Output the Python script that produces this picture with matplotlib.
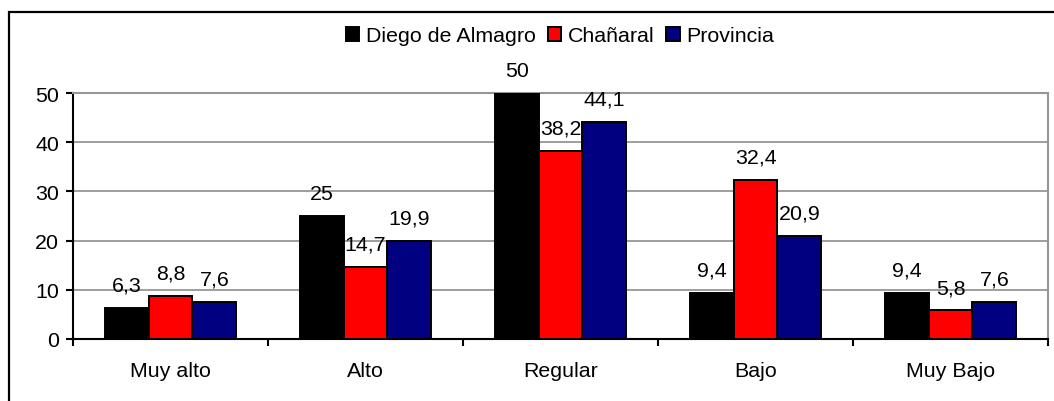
import matplotlib
matplotlib.use('Agg')
import matplotlib.pyplot as plt
import numpy as np
from matplotlib.patches import Rectangle

categories = ['Muy alto', 'Alto', 'Regular', 'Bajo', 'Muy Bajo']
series_names = ['Diego de Almagro', 'Chañaral', 'Provincia']
diego = [6.3, 25, 50, 9.4, 9.4]
chanaral = [8.8, 14.7, 38.2, 32.4, 5.8]
provincia = [7.6, 19.9, 44.1, 20.9, 7.6]
colors = ['#000000', '#FF0000', '#000080']
yticks = [0, 10, 20, 30, 40, 50]

plt.rcParams['font.family'] = ['Liberation Sans', 'DejaVu Sans']
FS = 15.4

fig = plt.figure(figsize=(10.54, 4.02), dpi=100)
ax = fig.add_axes([73 / 1054, 62 / 402, 975 / 1054, 246 / 402])


def fmt(v):
    s = f'{v:.1f}'
    if s.endswith('.0'):
        s = s[:-2]
    return s.replace('.', ',')


x = np.arange(len(categories)) + 0.5
width = 0.225
all_series = [diego, chanaral, provincia]
for i, (vals, name, col) in enumerate(zip(all_series, series_names, colors)):
    pos = x + (i - 1) * width
    ax.bar(pos, vals, width=width, color=col, edgecolor='black',
           linewidth=1.4, label=name, zorder=3)
    for px, v in zip(pos, vals):
        ax.annotate(fmt(v), (px, v), xytext=(0, 9.5), textcoords='offset points',
                    ha='center', va='bottom', fontsize=FS, zorder=4,
                    annotation_clip=False)

ax.set_xlim(0, len(categories))
ax.set_ylim(0, 50)
ax.set_yticks(yticks)
ax.set_yticklabels([str(t) for t in yticks])
ax.yaxis.grid(True, color='#969696', linewidth=1.3, zorder=0)

ax.set_xticks(np.arange(len(categories) + 1))
ax.set_xticklabels([])
ax.set_xticks(x, minor=True)
ax.set_xticklabels(categories, minor=True)
ax.tick_params(axis='x', which='minor', length=0, pad=16, labelsize=FS)
ax.tick_params(axis='x', which='major', length=5, width=1.5, direction='out')
ax.tick_params(axis='y', length=5, width=1.5, direction='out', pad=5, labelsize=FS)

for s in ['left', 'bottom']:
    ax.spines[s].set_color('black')
    ax.spines[s].set_linewidth(1.5)
for s in ['top', 'right']:
    ax.spines[s].set_color('#969696')
    ax.spines[s].set_linewidth(1.5)

leg = fig.legend(loc='center', bbox_to_anchor=((73 + 487) / 1054, 1 - 37 / 402),
                 ncol=3, frameon=False, fontsize=FS, handlelength=0.65,
                 handleheight=0.65, handletextpad=0.3, columnspacing=0.55,
                 borderpad=0)

fig.patches.append(Rectangle((9 / 1054, -0.1), 1.2, 1.1 - 13 / 402,
                             transform=fig.transFigure, fill=False,
                             edgecolor='black', linewidth=1.6, zorder=0))

fig.savefig('out.png', dpi=100)
